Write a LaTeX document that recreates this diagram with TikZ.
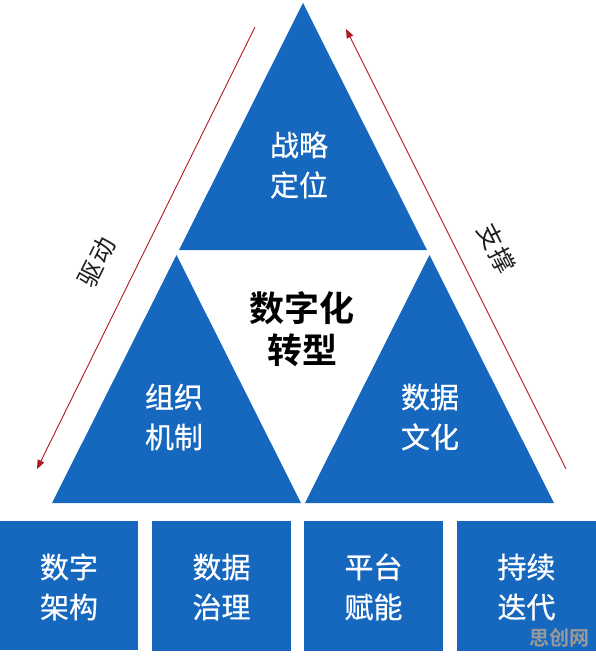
\documentclass[tikz,border=0pt]{standalone}
\usepackage{fontspec}
\newfontfamily\cjk{Noto Sans CJK SC}[BoldFont={Noto Sans CJK SC Bold}]
\newfontfamily\cjkmed{Noto Sans CJK SC}[FakeBold=0.6]
\usetikzlibrary{arrows.meta}
\definecolor{tblue}{RGB}{22,104,190}
\definecolor{tred}{RGB}{175,25,35}
\definecolor{ttext}{RGB}{30,30,30}
\begin{document}
\begin{tikzpicture}[x=1pt,y=-1pt,
  tri/.style={fill=tblue},
  boxst/.style={fill=tblue},
  wtext/.style={text=white,align=center,font=\cjkmed\fontsize{29}{40}\selectfont},
  ctext/.style={text=black,align=center,font=\cjk\bfseries\fontsize{35}{42}\selectfont},
  side/.style={text=ttext,font=\cjk\fontsize{25}{30}\selectfont},
  redarrow/.style={draw=tred,line width=0.9pt,-{Triangle[length=9pt,width=7pt]}},
  wm/.style={text=black!40,font=\cjk\bfseries\fontsize{20}{22}\selectfont}
]
\useasboundingbox (0,0) rectangle (596,656);
\fill[white] (0,0) rectangle (596,656);
% triangles
\fill[tri] (303,3) -- (179,250) -- (427,250) -- cycle;
\fill[tri] (176.5,255) -- (52,503) -- (301,503) -- cycle;
\fill[tri] (429.5,255) -- (305,503) -- (554,503) -- cycle;
\node[wtext] (top) at (299,165) {战略\\定位};
\node[wtext] (left) at (174,417) {组织\\机制};
\node[wtext] (right) at (430,417) {数据\\文化};
\node[ctext] (center) at (302,329) {数字化\\转型};
% boxes
\fill[boxst] (0,521) rectangle (138,650);
\fill[boxst] (152,521) rectangle (291,651);
\fill[boxst] (304,521) rectangle (443,651);
\fill[boxst] (457,521) rectangle (596,651);
\node[wtext] (b1) at (69,587) {数字\\架构};
\node[wtext] (b2) at (221.5,587) {数据\\治理};
\node[wtext] (b3) at (373.5,587) {平台\\赋能};
\node[wtext] (b4) at (526.5,587) {持续\\迭代};
% arrows
\coordinate (ls) at (255,27);
\coordinate (le) at (37,469);
\coordinate (rs) at (566,469);
\coordinate (re) at (346,29);
\draw[redarrow] (ls) -- (le);
\draw[redarrow] (rs) -- (re);
\node[side,rotate=63.7] (drive) at (97,262) {驱\hspace{2pt}动};
\node[side,rotate=-63.4] (support) at (497,248) {支\hspace{2pt}撑};
\node[wm] (mark) at (559,638) {思创网};
\end{tikzpicture}
\end{document}
